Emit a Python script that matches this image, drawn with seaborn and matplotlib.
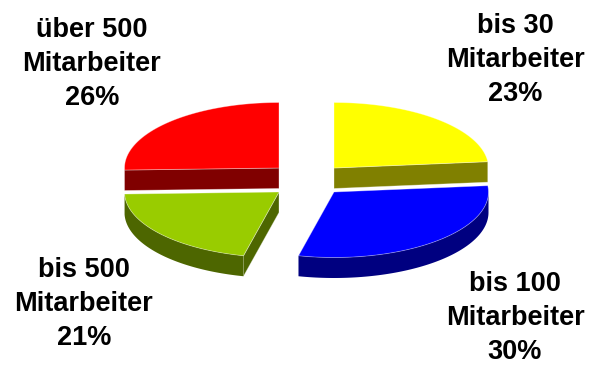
import numpy as np
import matplotlib
matplotlib.use("Agg")
import matplotlib.pyplot as plt
import seaborn as sns

categories = ["bis 30", "bis 100", "bis 500", "über 500"]
shares = [23, 30, 21, 26]
top_colors = ["#FFFF00", "#0000FF", "#99CC00", "#FF0000"]
side_colors = ["#808000", "#000080", "#4D6600", "#800000"]

sns.set_theme(style="white")
plt.rcParams["font.family"] = ["Liberation Sans", "DejaVu Sans"]

W, H = 589, 366
fig = plt.figure(figsize=(W / 100, H / 100), dpi=100)
ax = fig.add_axes([0, 0, 1, 1])
ax.set_xlim(0, W)
ax.set_ylim(H, 0)
ax.axis("off")

CX, CY, RX, RY, DEPTH = 306.5, 180, 154.5, 65.5, 20.5
EX, EY = 27.5, 12
EDGE = "#FFFFFF60"
SKEW = np.radians(2.5)  # slight perspective shift of the slice boundaries


def pt(center, t):
    return center[0] + RX * np.sin(t), center[1] - RY * np.cos(t)


def wedge_center(mid):
    return (CX + EX * np.sign(np.sin(mid)), CY - EY * np.sign(np.cos(mid)))


fr = np.cumsum([0] + shares) / sum(shares) * 2 * np.pi
fr = fr + SKEW * np.sin(fr / 2)
slices = []
for i in range(len(shares)):
    t0, t1 = fr[i], fr[i + 1]
    mid = (t0 + t1) / 2
    slices.append((i, t0, t1, mid, wedge_center(mid)))

# Paint back slices first, then the front ones.
for i, t0, t1, mid, c in sorted(slices, key=lambda s: s[4][1]):
    inner = pt(c, mid)
    inner = ((c[0] + inner[0]) / 2, (c[1] + inner[1]) / 2)
    for t in (t0, t1):
        px, py = pt(c, t)
        dx, dy = px - c[0], py - c[1]
        if abs(dx) < 1e-6:
            continue
        line_y = c[1] + dy * (inner[0] - c[0]) / dx
        if inner[1] < line_y:  # wedge lies above the cut, so the cut faces us
            ax.fill([c[0], px, px, c[0]], [c[1], py, py + DEPTH, c[1] + DEPTH],
                    color=side_colors[i], lw=0.6, ec=EDGE, zorder=2)
    a0, a1 = max(t0, np.pi / 2), min(t1, 3 * np.pi / 2)
    if a1 > a0:
        ts = np.linspace(a0, a1, 80)
        xs, ys = pt(c, ts)
        ax.fill(np.r_[xs, xs[::-1]], np.r_[ys, ys[::-1] + DEPTH],
                color=side_colors[i], lw=0, zorder=2)
    ts = np.linspace(t0, t1, 120)
    xs, ys = pt(c, ts)
    ax.fill(np.r_[c[0], xs], np.r_[c[1], ys], fc=top_colors[i], ec=EDGE, lw=0.6, zorder=3)

label_xy = [(515, 60), (515, 318), (84, 304), (92, 64)]
for name, v, (x, y) in zip(categories, shares, label_xy):
    ax.text(x, y, f"{name}\nMitarbeiter\n{v}%", ha="center", va="center",
            fontsize=19.5, fontweight="bold", color="black", linespacing=1.42)

fig.savefig("out.png", dpi=100, facecolor="white")
